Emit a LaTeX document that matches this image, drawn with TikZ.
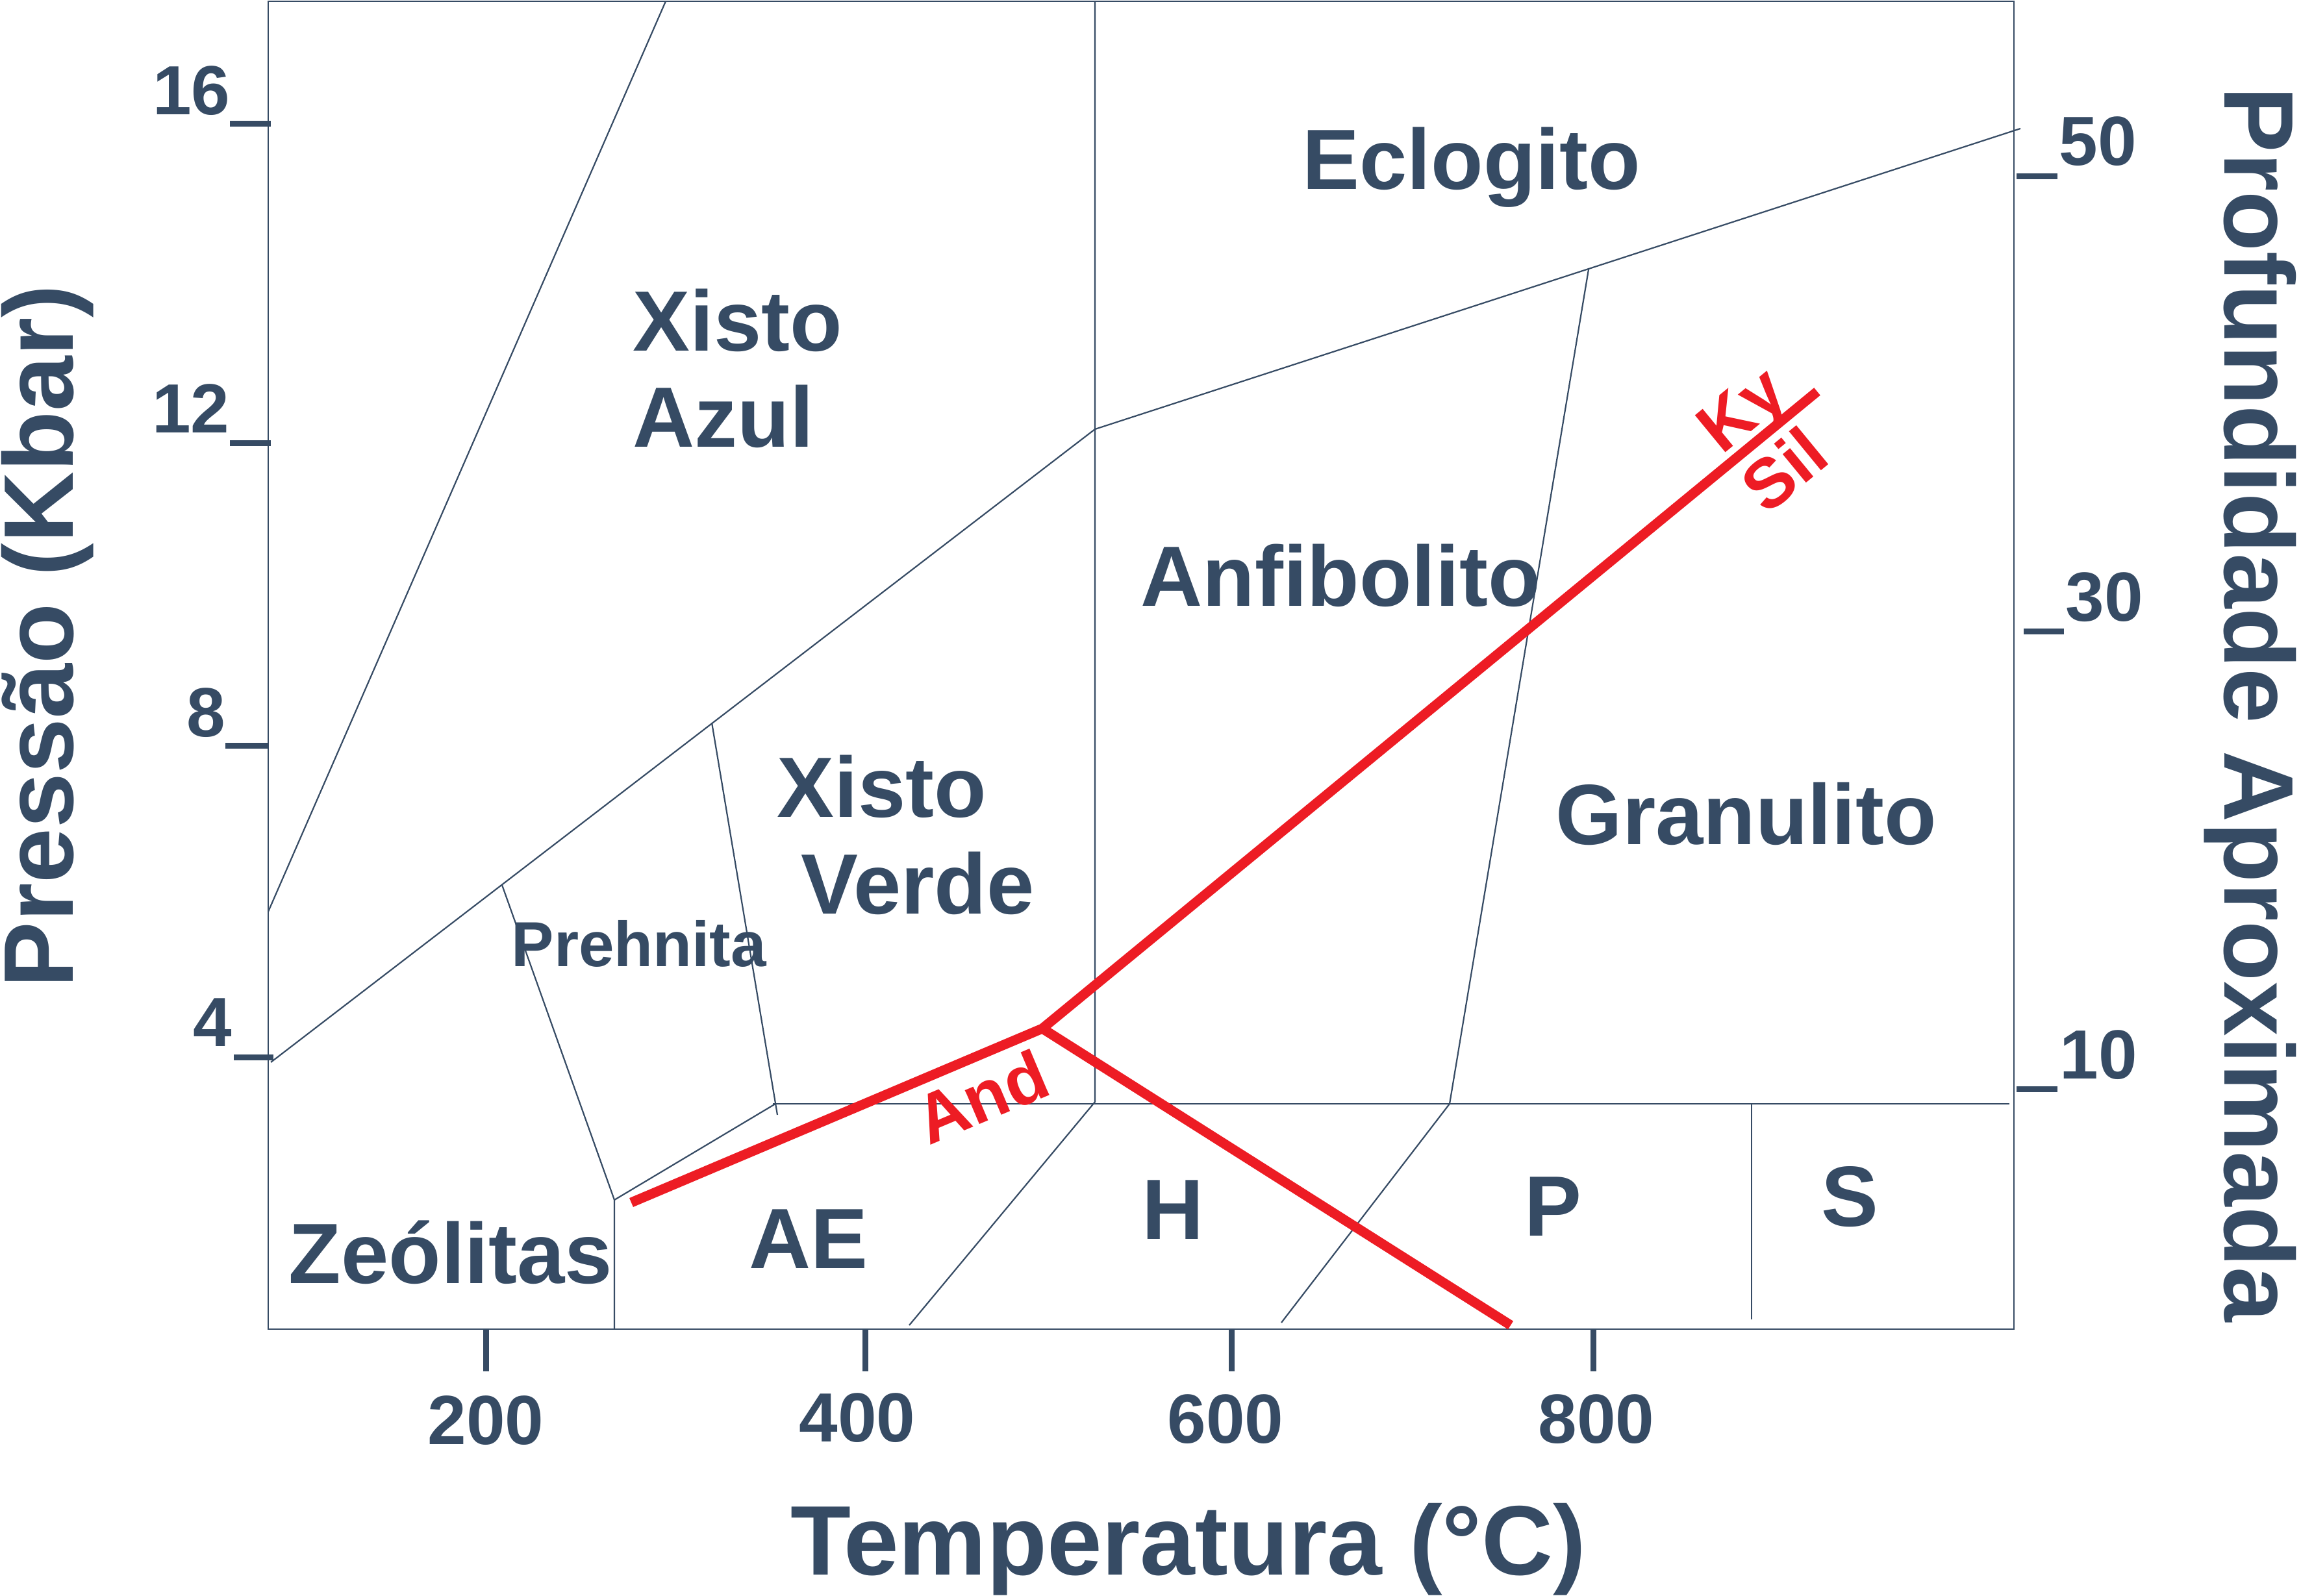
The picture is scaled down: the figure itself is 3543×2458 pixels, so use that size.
\documentclass[tikz,border=0pt]{standalone}
\usepackage{fontspec}
\setmainfont{Liberation Sans}
\definecolor{slate}{RGB}{54,75,100}
\definecolor{mred}{RGB}{237,28,36}
\newcommand\myfs[1]{\fontsize{#1}{#1}\selectfont}
\begin{document}
\begin{tikzpicture}[x=0.1mm,y=-0.1mm,
  bline/.style={draw=slate, line width=0.22mm},
  rline/.style={draw=mred, line width=1.5mm},
  tickmark/.style={draw=slate, line width=0.9mm},
  region/.style={text=slate, font=\bfseries\myfs{37.5pt}, inner sep=0pt},
  small region/.style={text=slate, font=\bfseries\myfs{27.9pt}, inner sep=0pt},
  ticklbl/.style={text=slate, font=\bfseries\myfs{30.5pt}, inner sep=0pt, anchor=base},
  axislbl/.style={text=slate, font=\bfseries\myfs{43.3pt}, inner sep=0pt, anchor=base},
  redlbl/.style={text=mred, font=\bfseries\myfs{30.5pt}, inner sep=0pt}]
\useasboundingbox (0,0) rectangle (3543,2458);

% frame
\coordinate (fTL) at (413,2);
\coordinate (fBR) at (3101,2047);
\draw[bline] (fTL) rectangle (fBR);

% facies boundaries
\coordinate (a1) at (413,1404);
\coordinate (a2) at (1025,2);
\coordinate (b1) at (417,1636);
\coordinate (b2) at (1686,661);
\coordinate (c2) at (3111,198);
\coordinate (d1) at (1686,2);
\coordinate (d2) at (1686,1697);
\coordinate (e2) at (1400,2041);
\coordinate (f1) at (773,1363);
\coordinate (f2) at (946,1848);
\coordinate (f3) at (946,2047);
\coordinate (g2) at (1194,1700);
\coordinate (h1) at (1096,1113);
\coordinate (h2) at (1197,1717);
\coordinate (i1) at (1190,1700);
\coordinate (i2) at (3094,1700);
\coordinate (j1) at (2446,415);
\coordinate (j2) at (2232,1700);
\coordinate (k2) at (1973,2037);
\coordinate (m1) at (2697,1700);
\coordinate (m2) at (2697,2032);

\draw[bline] (a1) -- (a2);
\draw[bline] (b1) -- (b2) -- (c2);
\draw[bline] (d1) -- (d2) -- (e2);
\draw[bline] (f1) -- (f2) -- (f3);
\draw[bline] (f2) -- (g2);
\draw[bline] (h1) -- (h2);
\draw[bline] (i1) -- (i2);
\draw[bline] (j1) -- (j2) -- (k2);
\draw[bline] (m1) -- (m2);

% aluminosilicate triple point lines
\coordinate (r1) at (972,1852);
\coordinate (r0) at (1605,1584);
\coordinate (r2) at (2798,603);
\coordinate (r3) at (2326,2041);
\draw[rline] (r1) -- (r0) -- (r2);
\draw[rline] (r0) -- (r3);

% left axis ticks
\coordinate (tl16a) at (354,191); \coordinate (tl16b) at (417,191);
\coordinate (tl12a) at (354,683); \coordinate (tl12b) at (417,683);
\coordinate (tl8a) at (347,1149); \coordinate (tl8b) at (413,1149);
\coordinate (tl4a) at (360,1628); \coordinate (tl4b) at (421,1628);
\draw[tickmark] (tl16a) -- (tl16b);
\draw[tickmark] (tl12a) -- (tl12b);
\draw[tickmark] (tl8a) -- (tl8b);
\draw[tickmark] (tl4a) -- (tl4b);
\node[ticklbl] (n16) at (295,177) {16};
\node[ticklbl] (n12) at (294,667) {12};
\node[ticklbl] (n8) at (317,1135) {8};
\node[ticklbl] (n4) at (327,1611) {4};

% right axis ticks
\coordinate (tr50a) at (3105,272); \coordinate (tr50b) at (3168,272);
\coordinate (tr30a) at (3116,973); \coordinate (tr30b) at (3178,973);
\coordinate (tr10a) at (3105,1677); \coordinate (tr10b) at (3168,1677);
\draw[tickmark] (tr50a) -- (tr50b);
\draw[tickmark] (tr30a) -- (tr30b);
\draw[tickmark] (tr10a) -- (tr10b);
\node[ticklbl] (n50) at (3230,255) {50};
\node[ticklbl] (n30) at (3240,957) {30};
\node[ticklbl] (n10) at (3231,1661) {10};

% bottom axis ticks
\coordinate (tb200a) at (748,2047); \coordinate (tb200b) at (748,2112);
\coordinate (tb400a) at (1332,2047); \coordinate (tb400b) at (1332,2112);
\coordinate (tb600a) at (1896,2047); \coordinate (tb600b) at (1896,2112);
\coordinate (tb800a) at (2453,2047); \coordinate (tb800b) at (2453,2112);
\draw[tickmark] (tb200a) -- (tb200b);
\draw[tickmark] (tb400a) -- (tb400b);
\draw[tickmark] (tb600a) -- (tb600b);
\draw[tickmark] (tb800a) -- (tb800b);
\node[ticklbl] (n200) at (748,2224) {200};
\node[ticklbl] (n400) at (1320,2220) {400};
\node[ticklbl] (n600) at (1887,2222) {600};
\node[ticklbl] (n800) at (2458,2222) {800};

% axis titles
\node[axislbl] (xtitle) at (1830,2425) {Temperatura (°C)};
\node[axislbl, rotate=90] (ytitle) at (112,980) {Pressão (Kbar)};
\node[axislbl, rotate=-90] (y2title) at (3425,1085) {Profundidade Aproximada};

% region labels
\node[region, anchor=base west] (xa1) at (974,541) {Xisto};
\node[region, anchor=base west] (xa2) at (974,689) {Azul};
\node[region, anchor=base west] (ecl) at (2005,292) {Eclogito};
\node[region, anchor=base west] (anf) at (1756,934) {Anfibolito};
\node[region, anchor=base] (xv1) at (1358,1258) {Xisto};
\node[region, anchor=base] (xv2) at (1413,1407) {Verde};
\node[region, anchor=base west] (gra) at (2395,1300) {Granulito};
\node[small region, anchor=base west] (pre) at (787,1488) {Prehnita};
\node[region, anchor=base west] (zeo) at (444,1976) {Zeólitas};
\node[region, anchor=base] (ae) at (1245,1953) {AE};
\node[region, anchor=base] (hh) at (1806,1908) {H};
\node[region, anchor=base] (pp) at (2391,1903) {P};
\node[region, anchor=base] (ss) at (2848,1888) {S};

% red labels
\node[redlbl, anchor=base west, rotate=22.9] (and) at (1430,1765) {And};
\node[redlbl, anchor=base west, rotate=39.4] (ky) at (2651,702) {Ky};
\node[redlbl, anchor=center, rotate=39.4] (sil) at (2747,723) {Sil};
\end{tikzpicture}
\end{document}
